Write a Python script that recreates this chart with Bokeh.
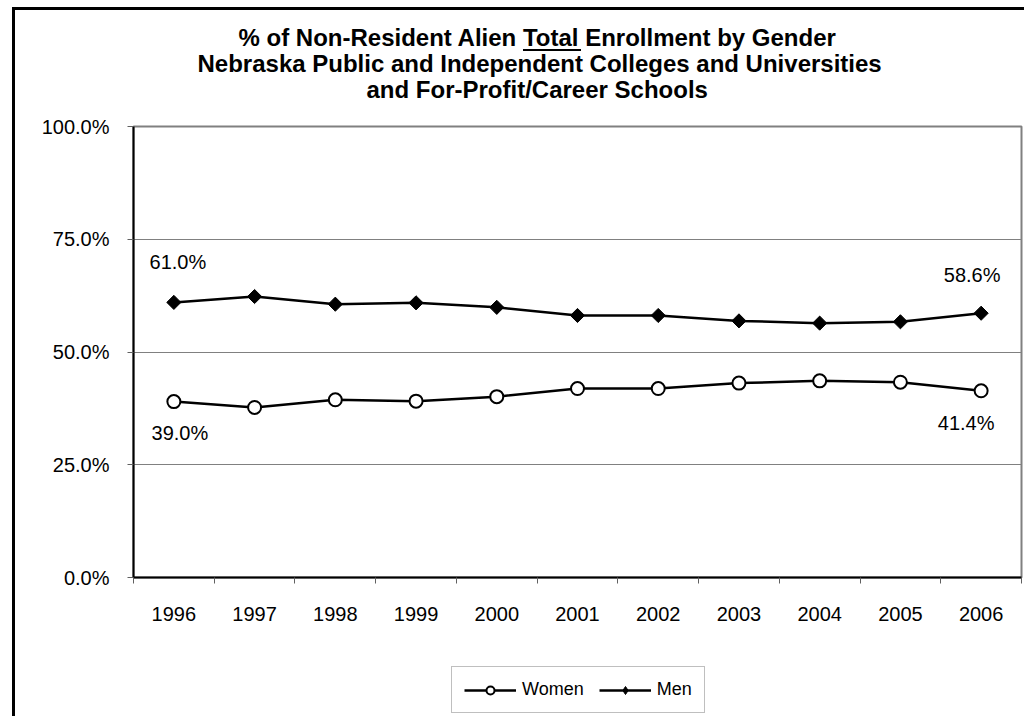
from bokeh.plotting import figure
from bokeh.layouts import column
from bokeh.models import (FixedTicker, PrintfTickFormatter, Legend, LegendItem,
                          ColumnDataSource, Title, Range1d)
from bokeh.core.properties import value
from bokeh.embed import file_html
from bokeh.resources import INLINE
import math

# ---- data ----
years = ["1996", "1997", "1998", "1999", "2000", "2001", "2002", "2003", "2004", "2005", "2006"]
women = [39.0, 37.7, 39.4, 39.1, 40.1, 41.9, 41.9, 43.1, 43.6, 43.3, 41.4]
men = [61.0, 62.3, 60.6, 60.9, 59.9, 58.1, 58.1, 56.9, 56.4, 56.7, 58.6]
y_ticks = [0, 25, 50, 75, 100]
title_lines = [
    "% of Non-Resident Alien Total Enrollment by Gender",
    "Nebraska Public and Independent Colleges and Universities",
    "and For-Profit/Career Schools",
]
series_names = ["Women", "Men"]
labelled = [0, len(years) - 1]   # data labels on first and last year

# ---- style ----
FONT = "Liberation Sans"
GRAY = "#808080"
title_offsets = [105, 64, 233]      # px from plot-area left (lines centred on chart area)
title_standoffs = [-3, -3, -3]
W, H_MAIN, H_LEG = 1024, 660, 56

xs = [i + 0.5 for i in range(len(years))]
src_w = ColumnDataSource(dict(x=xs, y=women))
src_m = ColumnDataSource(dict(x=xs, y=men))

p = figure(width=W, height=H_MAIN, title=None,
           x_range=Range1d(0, len(years)), y_range=Range1d(0, 100),
           output_backend="svg", toolbar_location=None,
           min_border_left=133, min_border_right=3,
           min_border_top=126, min_border_bottom=83,
           background_fill_color="white", border_fill_alpha=0)

# chart-area frame (left/top edges) and the underline under "Total"
p.styles = {
    "background-color": "white",
    "background-image": "linear-gradient(black, black), linear-gradient(black, black), "
                        "linear-gradient(black, black)",
    "background-repeat": "no-repeat",
    "background-size": "58px 2px, 3px 100%, 100% 3px",
    "background-position": "523px 49px, 12px 7px, 12px 7px",
}

# title: spacer next to the plot area, then the three lines stacked outward
p.add_layout(Title(text=" ", text_font_size="1px", standoff=22), "above")
for line, off, so in reversed(list(zip(title_lines, title_offsets, title_standoffs))):
    p.add_layout(Title(text=line, align="left", offset=off, standoff=so,
                       text_font=FONT, text_font_size="24px", text_font_style="bold",
                       text_color="black"), "above")

p.outline_line_color = GRAY
p.outline_line_width = 2

# x axis: labels centred in categories, tick marks between categories
p.xaxis.ticker = FixedTicker(ticks=xs, minor_ticks=list(range(len(years) + 1)))
p.xaxis.major_label_overrides = {x: y for x, y in zip(xs, years)}
p.xaxis.major_tick_line_color = None
p.xaxis.major_tick_out = 0
p.xaxis.major_tick_in = 0
p.xaxis.minor_tick_out = 6
p.xaxis.minor_tick_in = 0
p.xaxis.minor_tick_line_color = "#606060"
p.xaxis.minor_tick_line_width = 1
p.xaxis.major_label_standoff = 23
p.xaxis.axis_line_color = "black"
p.xaxis.axis_line_width = 2
p.xaxis.major_label_text_font = FONT
p.xaxis.major_label_text_font_size = "20px"
p.xaxis.major_label_text_color = "black"

p.yaxis.ticker = FixedTicker(ticks=y_ticks, minor_ticks=[])
p.yaxis.formatter = PrintfTickFormatter(format="%.1f%%")
p.yaxis.major_tick_out = 6
p.yaxis.major_tick_in = 0
p.yaxis.major_tick_line_color = "#606060"
p.yaxis.minor_tick_line_color = None
p.yaxis.major_label_standoff = 18
p.yaxis.axis_line_color = "black"
p.yaxis.axis_line_width = 2
p.yaxis.major_label_text_font = FONT
p.yaxis.major_label_text_font_size = "20px"
p.yaxis.major_label_text_color = "black"

p.xgrid.visible = False
p.ygrid.ticker = FixedTicker(ticks=y_ticks, minor_ticks=[])
p.ygrid.grid_line_color = GRAY
p.ygrid.grid_line_width = 1

# series
line_style = dict(line_color="black", line_width=2.5)
w_marker = dict(marker="circle", size=13, fill_color="white", line_color="black", line_width=2)
m_marker = dict(marker="square", size=10, angle=math.pi / 4,
                fill_color="black", line_color="black", line_width=1)

p.line("x", "y", source=src_w, **line_style)
p.scatter("x", "y", source=src_w, **w_marker)
p.line("x", "y", source=src_m, **line_style)
p.scatter("x", "y", source=src_m, **m_marker)

# data labels (first & last year)
men_lab_dx = [4, -9]
men_lab_dy = [-40, -38]
wom_lab_dx = [6, -15]
wom_lab_dy = [31, 32]
lab_m = ColumnDataSource(dict(x=[xs[i] for i in labelled], y=[men[i] for i in labelled],
                              t=["%.1f%%" % men[i] for i in labelled],
                              dx=men_lab_dx, dy=men_lab_dy))
lab_w = ColumnDataSource(dict(x=[xs[i] for i in labelled], y=[women[i] for i in labelled],
                              t=["%.1f%%" % women[i] for i in labelled],
                              dx=wom_lab_dx, dy=wom_lab_dy))
for s in (lab_m, lab_w):
    p.text("x", "y", text="t", x_offset="dx", y_offset="dy", source=s,
           text_align="center", text_baseline="middle",
           text_font=value(FONT), text_font_size=value("20px"), text_color="black")

# ---- legend strip below the chart (frames are aligned with the chart) ----
q = figure(width=W, height=H_LEG, x_range=Range1d(0, 1), y_range=Range1d(0, 1),
           x_axis_type=None, y_axis_type=None, output_backend="svg",
           toolbar_location=None, min_border=0, outline_line_color=None,
           background_fill_alpha=0, border_fill_alpha=0)
q.grid.visible = False
q.styles = {
    "background-color": "white",
    "background-image": "linear-gradient(black, black)",
    "background-repeat": "no-repeat",
    "background-size": "3px 100%",
    "background-position": "12px 0px",
}
# legend-only renderers (no visible data)
nan = float("nan")
key = dict(x=[nan], y=[nan])
qw_l = q.line(x="x", y="y", source=ColumnDataSource(key), **line_style)
qw_s = q.scatter(x="x", y="y", source=ColumnDataSource(key), **w_marker)
qm_l = q.line(x="x", y="y", source=ColumnDataSource(key), **line_style)
qm_s = q.scatter(x="x", y="y", source=ColumnDataSource(key), marker="diamond", size=12,
                 fill_color="black", line_color="black", line_width=1)

legend = Legend(items=[LegendItem(label=series_names[0], renderers=[qw_l, qw_s]),
                       LegendItem(label=series_names[1], renderers=[qm_l, qm_s])],
                location=(318, 3), orientation="horizontal",
                border_line_color=GRAY, border_line_width=1,
                background_fill_color="white", background_fill_alpha=1,
                padding=12, spacing=15, margin=0,
                glyph_width=52, glyph_height=20, label_standoff=6,
                label_text_font=FONT, label_text_font_size="18px",
                label_text_color="black")
q.add_layout(legend)

page = column(p, q, spacing=0)
open("out.html", "w").write(file_html(page, INLINE))
